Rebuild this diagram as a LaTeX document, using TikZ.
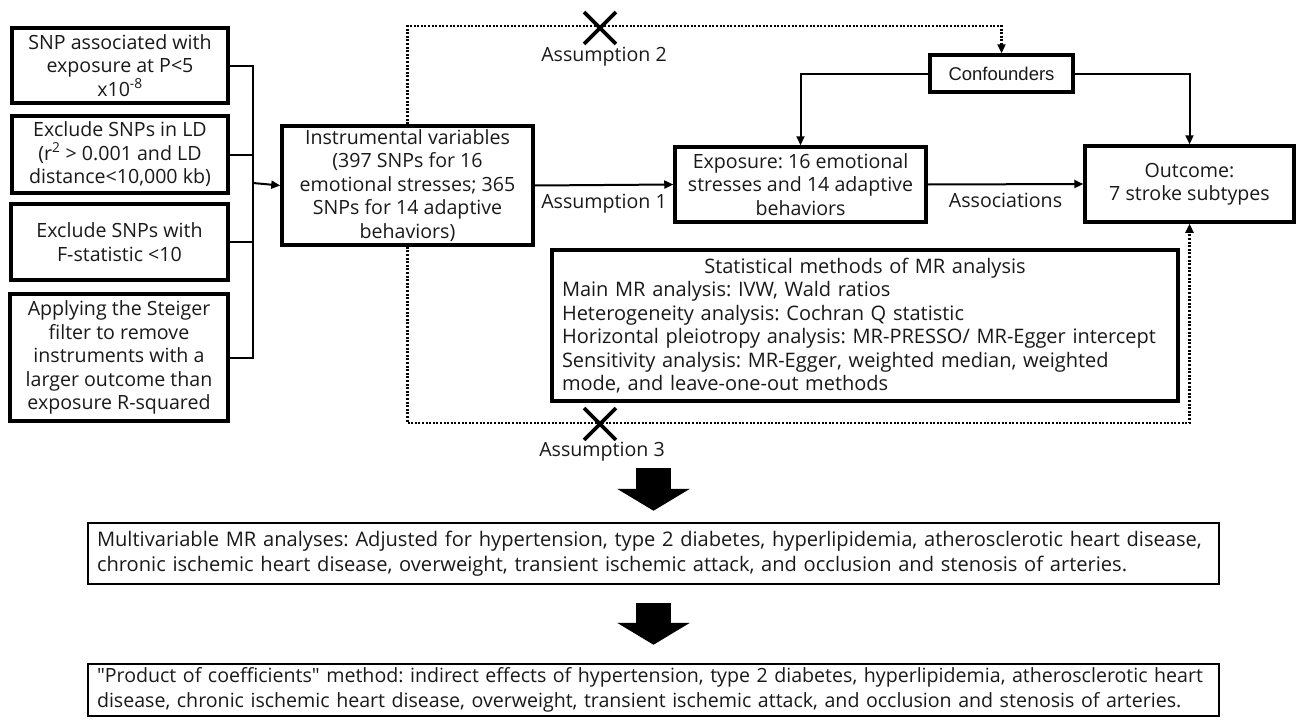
\documentclass[tikz,border=0pt]{standalone}
\usepackage{fontspec}
\setmainfont{Open Sans}
\newfontfamily\plainfont{Open Sans}
\newfontfamily\conffont{Liberation Sans}
\usetikzlibrary{arrows.meta,shapes.misc,positioning}
\frenchspacing

\begin{document}
\begin{tikzpicture}[x=1pt,y=-1pt,
  box/.style={draw,line width=3.5pt,align=center,inner sep=2pt,text=black!90,font=\fontsize{19.6}{23.5}\selectfont},
  lbl/.style={text=black!90,font=\fontsize{19.6}{23.5}\selectfont},
  link/.style={line width=2pt},
  tip/.style={-{Triangle[length=9pt,width=8pt]}},
  dotline/.style={line width=2.2pt,dash pattern=on 2pt off 1.6pt},
  xmark/.style={cross out,draw,line width=3.8pt,minimum width=28pt,minimum height=28pt,inner sep=0pt},
  bigarrow/.style={line width=35pt,-{Triangle[length=22pt,width=72pt]}}]
 \useasboundingbox (0,0) rectangle (1296,720);

 \node[box,minimum width=216pt,minimum height=75pt,  name=snp ] at (120,65.5)   {SNP associated with\\exposure at P<5\\x10\textsuperscript{-8}};
 \node[box,minimum width=216pt,minimum height=77pt,  name=ld  ] at (120,154.5)  {Exclude SNPs in LD\\(r\textsuperscript{2} > 0.001 and LD\\distance<10,000 kb)};
 \node[box,minimum width=217pt,minimum height=76pt,  name=fst ] at (119.5,242)  {Exclude SNPs with\\F-statistic <10};
 \node[box,minimum width=218pt,minimum height=127pt, name=stg ] at (119,357.5)  {Applying the Steiger\\filter to remove\\instruments with a\\larger outcome than\\exposure R-squared};
 \node[box,minimum width=251pt,minimum height=119pt, name=iv  ] at (407.5,185.5) {Instrumental variables\\(397 SNPs for 16\\emotional stresses; 365\\SNPs for 14 adaptive\\behaviors)};
 \node[box,minimum width=251pt,minimum height=75pt,  name=expo] at (800.5,184.5) {Exposure: 16 emotional\\stresses and 14 adaptive\\behaviors};
 \node[box,minimum width=209pt,minimum height=76pt,  name=outc] at (1189.5,184)  {Outcome:\\7 stroke subtypes};
 \node[box,minimum width=143pt,minimum height=37pt,  name=conf,font=\conffont\fontsize{18.5}{22}\selectfont] at (1001.5,73.5) {Confounders};
 \node[box,text width=606pt,minimum height=151pt,inner xsep=10pt,align=left,name=stat,font=\fontsize{20}{23.5}\selectfont] at (865,325.5)
   {\centering Statistical methods of MR analysis\par\raggedright
    Main MR analysis: IVW, Wald ratios\\
    Heterogeneity analysis: Cochran Q statistic\\
    Horizontal pleiotropy analysis: MR-PRESSO/ MR-Egger intercept\\
    Sensitivity analysis: MR-Egger, weighted median, weighted\\
    mode, and leave-one-out methods};
 \node[box,line width=2.5pt,text width=1113pt,inner xsep=9pt,minimum height=61pt,align=left,name=mv,font=\fontsize{20.1}{25}\selectfont] at (653.5,553.5)
   {\mbox{Multivariable MR analyses: Adjusted for hypertension, type 2 diabetes, hyperlipidemia, atherosclerotic heart disease,}\\
    \mbox{chronic ischemic heart disease, overweight, transient ischemic attack, and occlusion and stenosis of arteries.}};
 \node[box,line width=2.5pt,text width=1113pt,inner xsep=9pt,minimum height=52pt,align=left,name=poc,font=\fontsize{19.6}{25}\selectfont] at (653.5,690)
   {\mbox{{\plainfont"}Product of coefficients{\plainfont"} method: indirect effects of hypertension, type 2 diabetes, hyperlipidemia, atherosclerotic heart}\\
    \mbox{disease, chronic ischemic heart disease, overweight, transient ischemic attack, and occlusion and stenosis of arteries.}};

 \coordinate (join) at (253,183);
 \coordinate (a2)   at (600,26);
 \coordinate (a3)   at (600,423);
 \coordinate (bigtop) at (653.5,468);

 \draw[link] (snp.east) -| (join);
 \draw[link] (ld.east)  -| (join);
 \draw[link] (fst.east) -| (join);
 \draw[link] (stg.east) -| (join);
 \draw[link,tip] (join) -- (iv.west);

 \draw[link,tip] (iv.east)   -- node[midway,below=5pt,lbl] {Assumption 1} (expo.west);
 \draw[link,tip] (expo.east) -- node[midway,below=5pt,lbl] {Associations} (outc.west);
 \draw[link,tip] (conf.west) -| (expo.north);
 \draw[link,tip] (conf.east) -| (outc.north);

 \draw[dotline,tip] (iv.north) |- (a2) -| (conf.north);
 \draw[dotline,tip] (iv.south) |- (a3) -| (outc.south);
 \node[xmark,name=x2] at (600,28)  {};
 \node[xmark,name=x3] at (600,424) {};
 \node[lbl,name=lbl2] at (604,57)  {Assumption 2};
 \node[lbl,name=lbl3] at (602,452) {Assumption 3};

 \draw[bigarrow,shorten >=11pt] (bigtop) -- (mv.north);
 \draw[bigarrow,shorten <=18pt,shorten >=18pt] (mv.south) -- (poc.north);
\end{tikzpicture}
\end{document}
